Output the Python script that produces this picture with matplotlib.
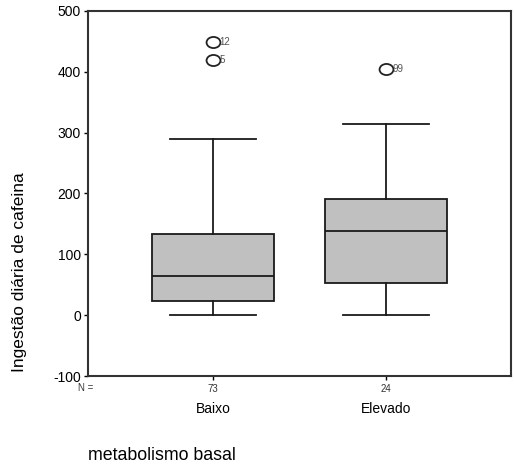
import matplotlib
matplotlib.use("Agg")
import matplotlib.pyplot as plt
from matplotlib.path import Path
from matplotlib.transforms import Affine2D

plt.rcParams['font.family'] = ['Liberation Sans', 'DejaVu Sans']

categories = ["Baixo", "Elevado"]
counts = [73, 24]
whislo = [0, 0]
q1 = [23, 53]
med = [64, 138]
q3 = [133, 191]
whishi = [289, 314]
outliers = [[449, 419], [405]]
outlier_ids = [["12", "5"], ["99"]]

fig = plt.figure(figsize=(5.14, 4.69), dpi=100)
ax = fig.add_axes([88/514, 1-376/469, 423/514, 365/469])

ellipse = Path.unit_circle().transformed(Affine2D().scale(1.25, 1.0))

stats = []
for i in range(len(categories)):
    stats.append(dict(label=categories[i], whislo=whislo[i], q1=q1[i], med=med[i],
                      q3=q3[i], whishi=whishi[i], fliers=outliers[i]))
positions = [1, 2]
ax.bxp(stats, positions=positions, widths=0.71, patch_artist=True,
       boxprops=dict(facecolor='#c0c0c0', edgecolor='#1a1a1a', linewidth=1.3),
       medianprops=dict(color='#1a1a1a', linewidth=1.3),
       whiskerprops=dict(color='#1a1a1a', linewidth=1.3),
       capprops=dict(color='#1a1a1a', linewidth=1.3),
       capwidths=0.5,
       flierprops=dict(marker=ellipse, markerfacecolor='none', markeredgecolor='#222222',
                       markersize=10, markeredgewidth=1.3))

for i, p in enumerate(positions):
    for v, lab in zip(outliers[i], outlier_ids[i]):
        ax.text(p + 0.035, v, lab, fontsize=7, color='#555555', va='center', ha='left')

ax.set_xlim(0.2775, 2.7225)
ax.set_ylim(-100, 500)
ax.set_yticks([-100, 0, 100, 200, 300, 400, 500])
ax.set_yticklabels(["-100", "0", "100", "200", "300", "400", "500"], fontsize=10)
ax.set_xticks(positions)
ax.set_xticklabels([str(c) for c in counts], fontsize=7, color='#333333')
ax.tick_params(axis='y', direction='out', length=3, width=1, pad=2)
ax.tick_params(axis='x', direction='out', length=3, width=1, pad=3)
for s in ax.spines.values():
    s.set_linewidth(1.5)
    s.set_color('#333333')

fig.text(78/514, 1-388/469, "N =", fontsize=7, color='#333333', ha='left', va='center')

for p, c in zip(positions, categories):
    x_disp = ax.transData.transform((p, 0))[0]
    fig.text(x_disp/514, 1-409/469, c, ha='center', va='center', fontsize=10)

fig.text(88/514, 1-455/469, "metabolismo basal", ha='left', va='center', fontsize=12.8)
fig.text(20/514, 1-272/469, "Ingestão diária de cafeina", rotation=90,
         ha='center', va='center', fontsize=12.5)

fig.savefig("out.png", dpi=100)
